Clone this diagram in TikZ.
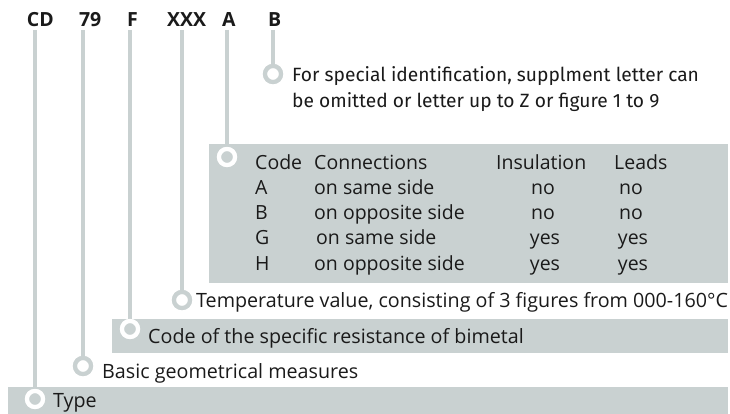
\documentclass[tikz,border=0pt]{standalone}
\usepackage{fontspec}
\setmainfont{Open Sans}
\newfontfamily\notefont{Fira Sans}
\definecolor{rail}{HTML}{C9D1D1}
\definecolor{ink}{HTML}{1A1A1A}
\begin{document}
\begin{tikzpicture}[x=1pt,y=-1pt,
  railline/.style={draw=rail, line width=4.5pt},
  ringw/.style={circle, draw=rail, fill=white, line width=4.2pt, minimum size=16pt, inner sep=0pt},
  ringg/.style={circle, draw=white, fill=rail, line width=4.2pt, minimum size=16pt, inner sep=0pt},
  codelabel/.style={font=\bfseries\fontsize{19.5}{19.5}\selectfont, anchor=base west, inner sep=0pt, outer sep=3pt, text=ink},
  txt/.style={font=\fontsize{19.7}{19.7}\selectfont, anchor=base west, inner sep=0pt, text=ink},
  note/.style={font=\notefont\fontsize{19.2}{26}\selectfont, anchor=north west, inner sep=0pt, text=ink, align=left},
  cell/.style={font=\fontsize{19.5}{19.5}\selectfont, anchor=base west, inner sep=0pt, text=ink},
  cellc/.style={font=\fontsize{19.5}{19.5}\selectfont, anchor=base, inner sep=0pt, text=ink},
]
\useasboundingbox (0,0) rectangle (730,414);

% grey bands behind the descriptions
\fill[rail] (209,144) rectangle (728,283);
\fill[rail] (112,319) rectangle (728,353);
\fill[rail] (8,387) rectangle (728,414);

% type designation
\node[codelabel] (cd)  at (24,27)  {CD};
\node[codelabel] (n79) at (76,27)  {79};
\node[codelabel] (f)   at (124,27) {F};
\node[codelabel] (xxx) at (164,27) {XXX};
\node[codelabel] (a)   at (219,27) {A};
\node[codelabel] (b)   at (265,27) {B};

% rings at the end of each rail
\node[ringw] (rb)   at (273,74)  {};
\node[ringg] (ra)   at (227,157) {};
\node[ringw] (rxxx) at (182,300) {};
\node[ringg] (rf)   at (130,329) {};
\node[ringw] (r79)  at (83,366)  {};
\node[ringg] (rcd)  at (35,399)  {};

% rails
\draw[railline] (rb |- b.south) -- (rb);
\draw[railline] (ra |- a.south) -- (ra.north);
\draw[railline] (rxxx |- xxx.south) -- (rxxx);
\draw[railline] (rf |- f.south) -- (rf);
\draw[railline] (r79 |- n79.south) -- (r79);
\draw[railline] (rcd |- cd.south) -- (rcd);
% redraw rings on top of the rails
\node[ringw] at (rb) {};
\node[ringg] at (ra) {};
\node[ringw] at (rxxx) {};
\node[ringg] at (rf) {};
\node[ringw] at (r79) {};
\node[ringg] at (rcd) {};

% descriptions
\node[note] (tb) at (292,66) {For special identification, supplment letter can\\be omitted or letter up to Z or figure 1 to 9};
\node[txt] (txxx) at (196,307) {Temperature value, consisting of 3 figures from 000-160°C};
\node[txt] (tf)   at (148,343) {Code of the specific resistance of bimetal};
\node[txt] (t79)  at (102,378) {Basic geometrical measures};
\node[txt] (tcd)  at (53,407)  {Type};

% connection table
\node[cell] (h1) at (255,169) {Code};
\node[cell] (h2) at (314,169) {Connections};
\node[cell] (h3) at (496,169) {Insulation};
\node[cell] (h4) at (614,169) {Leads};
\foreach \k/\c/\t/\i/\l/\dx [count=\n] in {A/on same side/0/no/no/0, B/on opposite side/0/no/no/0, G/on same side/2/yes/yes/2, H/on opposite side/0/yes/yes/2}{
  \node[cell]  (c\n) at (255,169+25.3*\n) {\k};
  \node[cell]  (s\n) at (314+\t,169+25.3*\n) {\c};
  \node[cellc] (i\n) at (543+\dx,169+25.3*\n) {\i};
  \node[cellc] (l\n) at (631+\dx,169+25.3*\n) {\l};
}
\end{tikzpicture}
\end{document}
